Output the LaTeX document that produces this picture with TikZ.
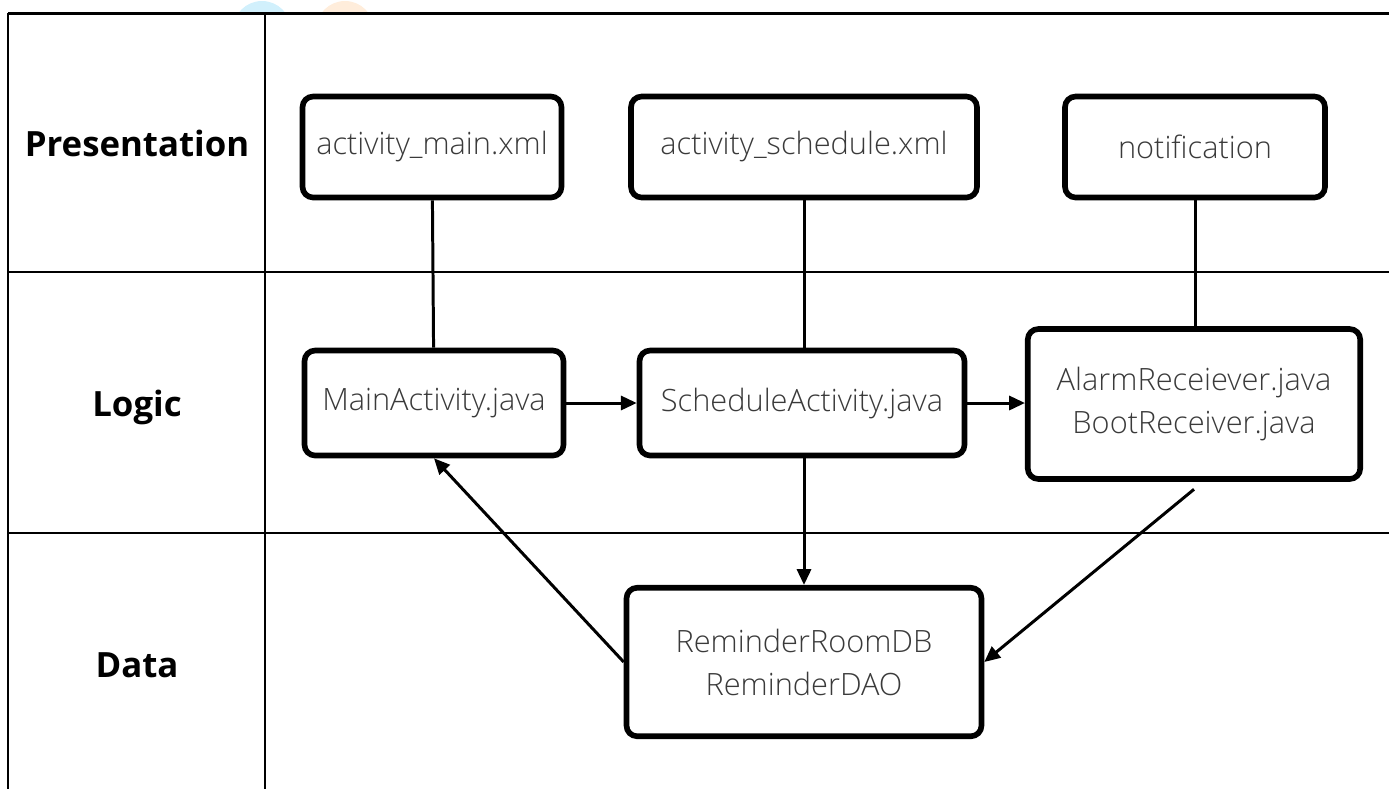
\documentclass[tikz,border=0pt]{standalone}
\usepackage{fontspec}
\setmainfont{Open Sans}
\newfontfamily\lightfont{Open Sans Light}
\usetikzlibrary{arrows.meta,positioning}
\tikzset{>={Triangle[length=9pt,width=8pt]}}
\definecolor{filetext}{HTML}{3A3A3A}
\tikzset{
  file/.style={draw,line width=3.2pt,rounded corners=6pt,text=filetext,align=center,inner sep=0pt,
    font=\lightfont\fontsize{17.5}{24.5}\selectfont},
  layer/.style={font=\bfseries\fontsize{19.8}{23}\selectfont},
  link/.style={line width=1.7pt},
  grid/.style={line width=1.2pt},
}

\begin{document}
\begin{tikzpicture}[x=0.02cm,y=-0.02cm]
\useasboundingbox (0,0) rectangle (1389,789);
% faint logo at the top edge
\fill[cyan!18] (262,30) circle (29);
\fill[orange!14] (345,30) circle (29);
\fill[white] (0,13) rectangle (1389,789);
% table
\draw[line width=1.7pt] (8,13) -- (1389,13);
\draw[grid] (8,13) -- (8,789);
\draw[grid] (265,13) -- (265,789);
\draw[grid] (8,272) -- (1389,272);
\draw[grid] (8,533) -- (1389,533);
\node[layer] (pres) at (137,143) {Presentation};
\node[layer] (logic) at (137,407) {Logic};
\node[layer] (data) at (137,665) {Data};
% files
\node[file,minimum width=5.18cm,minimum height=2.02cm] (amx) at (432,147) {activity\_main.xml};
\node[file,minimum width=6.92cm,minimum height=2.02cm] (asx) at (804,147) {activity\_schedule.xml};
\node[file,minimum width=5.2cm,minimum height=2.02cm] (notif) at (1195,147) {notification};
\node[file,minimum width=5.18cm,minimum height=2.1cm] (main) at (434,403) {MainActivity.java};
\node[file,minimum width=6.5cm,minimum height=2.1cm] (sched) at (802,403) {ScheduleActivity.java};
\node[file,minimum width=6.65cm,minimum height=3cm] (recv) at (1194,404) {AlarmReceiever.java\\BootReceiver.java};
\node[file,minimum width=7.1cm,minimum height=2.97cm] (db) at (804,662) {ReminderRoomDB\\ReminderDAO};
% connections
\draw[link] (amx) -- (main);
\draw[link] (asx.south) -- (asx.south |- sched.north);
\draw[link] (notif) -- (notif |- recv.north);
\draw[link,->] (main) -- (sched);
\draw[link,->] (sched) -- (sched -| recv.west);
\draw[link,->] (sched.south -| db.north) -- (db);
\coordinate (recvout) at ([yshift=-0.15cm]recv.south);
\draw[link,->] (recvout) -- (db.east);
\draw[link,->] (db.west) -- (main.south);
\end{tikzpicture}
\end{document}
